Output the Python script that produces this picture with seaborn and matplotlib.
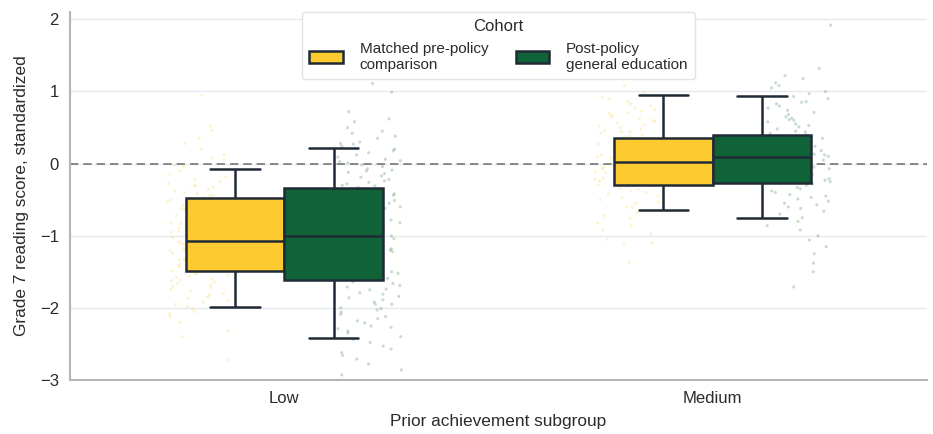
import numpy as np
import pandas as pd
import matplotlib
matplotlib.use("Agg")
import matplotlib.pyplot as plt
import seaborn as sns

# ---- data ----
groups = ["Low", "Medium"]
cohorts = ["Matched pre-policy\ncomparison", "Post-policy\ngeneral education"]
palette = ["#FDCB30", "#0F6336"]

# five-number summaries: whisker low, Q1, median, Q3, whisker high
low_pre_box = [-1.99, -1.49, -1.07, -0.48, -0.07]
low_post_box = [-2.42, -1.62, -1.00, -0.34, 0.21]
med_pre_box = [-0.64, -0.30, 0.02, 0.36, 0.95]
med_post_box = [-0.75, -0.27, 0.09, 0.39, 0.94]

# individual student points (estimated from the faint strip cloud)
low_pre_pts = [0.95, 0.46, 0.28, 0.35, 0.12, 0.05, -0.02, -0.10, -0.15, -0.22, -0.28, -0.31,
               -0.36, -0.40, -0.44, -0.47, -0.52, -0.55, -0.58, -0.61, -0.64, -0.67, -0.70,
               -0.72, -0.75, -0.78, -0.80, -0.83, -0.86, -0.88, -0.91, -0.93, -0.96, -0.98,
               -1.01, -1.03, -1.05, -1.07, -1.09, -1.11, -1.13, -1.16, -1.18, -1.21, -1.23,
               -1.26, -1.28, -1.31, -1.34, -1.37, -1.40, -1.43, -1.46, -1.49, -1.52, -1.56,
               -1.60, -1.64, -1.68, -1.72, -1.77, -1.82, -1.87, -1.92, -1.98, -2.05, -2.12,
               -2.40, -2.72, -0.62, -0.85, -1.02, -1.15, -1.25, -1.45, -0.50, -0.95, -1.33,
               -1.58, -1.70, -0.38, -0.73, -1.08, -1.90,
               0.52, 0.20, 0.08, -0.05, -0.18, -0.25, -0.33, -0.42, -0.49, -0.56, -0.63,
               -0.68, -0.74, -0.79, -0.84, -0.89, -0.94, -0.99, -1.04, -1.10, -1.14, -1.19,
               -1.24, -1.29, -1.35, -1.41, -1.47, -1.53, -1.61, -1.66, -1.74, -1.80, -1.85,
               -1.95, -2.02, -2.08, -2.20, -0.45, -0.66, -0.90, -1.12, -1.38, -1.55, -0.30,
               -0.82, -1.20, -1.62, -2.32]
low_post_pts = [1.11, 0.99, 0.72, 0.58, 0.45, 0.38, 0.30, 0.24, 0.18, 0.12, 0.06, 0.01, -0.04,
                -0.09, -0.14, -0.19, -0.24, -0.28, -0.33, -0.37, -0.42, -0.46, -0.51, -0.55,
                -0.60, -0.64, -0.69, -0.73, -0.78, -0.82, -0.87, -0.91, -0.96, -1.00, -1.04,
                -1.09, -1.13, -1.18, -1.22, -1.27, -1.31, -1.36, -1.40, -1.45, -1.50, -1.54,
                -1.59, -1.64, -1.69, -1.74, -1.79, -1.84, -1.89, -1.95, -2.00, -2.06, -2.12,
                -2.18, -2.25, -2.32, -2.40, -2.48, -2.57, -2.66, -2.78, -2.93, 0.20, -0.10,
                -0.30, -0.50, -0.70, -1.15, -1.35, -1.55, -1.75, -1.95, -2.15, -0.02, 0.35,
                -2.35, -1.02,
                0.62, 0.50, 0.42, 0.27, 0.15, 0.09, 0.03, -0.07, -0.12, -0.17, -0.22, -0.31,
                -0.40, -0.48, -0.57, -0.66, -0.75, -0.85, -0.93, -1.06, -1.20, -1.29, -1.42,
                -1.52, -1.61, -1.71, -1.81, -1.92, -2.03, -2.09, -2.21, -2.29, -2.44, -2.53,
                -2.62, -2.71, -2.86, 0.04, -0.26, -0.62, -0.98, -1.38, -1.66, -1.86, -2.27,
                0.28, -0.44, -1.24, -1.48, -2.01]
med_pre_pts = [1.08, 0.98, 0.92, 0.86, 0.80, 0.75, 0.70, 0.65, 0.60, 0.56, 0.52, 0.48, 0.44,
               0.40, 0.36, 0.32, 0.29, 0.25, 0.22, 0.18, 0.15, 0.11, 0.08, 0.05, 0.02, -0.01,
               -0.04, -0.07, -0.10, -0.13, -0.17, -0.20, -0.24, -0.28, -0.32, -0.36, -0.40,
               -0.45, -0.50, -0.55, -0.61, -0.68, -0.76, -0.86, -0.98, -1.13, -1.37, 0.62,
               0.42, 0.30, 0.12, -0.05, -0.22, -0.42, 0.90, 0.70, 0.20, -0.15, -0.60, -1.10, 0.50,
               0.95, 0.83, 0.77, 0.67, 0.58, 0.54, 0.46, 0.38, 0.34, 0.27, 0.19, 0.14, 0.09,
               0.04, 0.00, -0.03, -0.08, -0.12, -0.18, -0.26, -0.30, -0.38, -0.47, -0.53,
               -0.65, -0.72, -0.82, -0.92, -1.05, 0.73, 0.44, 0.24, 0.06, -0.11, -0.34]
med_post_pts = [1.92, 1.32, 1.18, 1.08, 1.00, 0.93, 0.86, 0.80, 0.74, 0.68, 0.63, 0.58, 0.53,
                0.48, 0.44, 0.40, 0.36, 0.32, 0.28, 0.24, 0.20, 0.16, 0.12, 0.09, 0.05, 0.01,
                -0.03, -0.07, -0.11, -0.15, -0.19, -0.23, -0.28, -0.33, -0.38, -0.43, -0.49,
                -0.55, -0.62, -0.70, -0.80, -0.92, -1.06, -1.25, -1.50, -1.71, 0.55, 0.35, 0.15,
                -0.05, -0.25, -0.45, 0.85, 0.65, 0.25, 0.02, -0.35, -0.60, 0.45, 1.05,
                1.22, 1.12, 0.97, 0.90, 0.83, 0.77, 0.71, 0.61, 0.51, 0.42, 0.38, 0.30, 0.22,
                0.18, 0.10, 0.07, 0.03, -0.01, -0.09, -0.13, -0.21, -0.30, -0.40, -0.47,
                -0.52, -0.66, -0.75, -0.86, -1.00, -1.15, -1.38, 0.60, 0.33, 0.13, -0.17, -0.57]

# ---- tidy tables ----
def tidy(pairs):
    rows = []
    for g, c, vals in pairs:
        for v in vals:
            rows.append({"group": g, "cohort": c, "score": v})
    return pd.DataFrame(rows)

box_df = tidy([(groups[0], cohorts[0], low_pre_box), (groups[0], cohorts[1], low_post_box),
               (groups[1], cohorts[0], med_pre_box), (groups[1], cohorts[1], med_post_box)])
pts_df = tidy([(groups[0], cohorts[0], low_pre_pts), (groups[0], cohorts[1], low_post_pts),
               (groups[1], cohorts[0], med_pre_pts), (groups[1], cohorts[1], med_post_pts)])

# ---- style ----
sns.set_theme(style="whitegrid")
plt.rcParams["font.family"] = ["Liberation Sans", "DejaVu Sans"]
plt.rcParams["text.color"] = "#2b2b2b"
plt.rcParams["axes.labelcolor"] = "#2b2b2b"
plt.rcParams["xtick.color"] = "#2b2b2b"
plt.rcParams["ytick.color"] = "#2b2b2b"

np.random.seed(3)
fig, ax = plt.subplots(figsize=(9.33, 4.34), dpi=100)
fig.subplots_adjust(left=0.075, right=0.9936, top=0.972, bottom=0.1244)

sns.stripplot(data=pts_df, x="group", y="score", hue="cohort", order=groups,
              hue_order=cohorts, palette=palette, dodge=True, jitter=0.15,
              size=2.3, alpha=0.22, linewidth=0, legend=False, ax=ax, zorder=1)

sns.boxplot(data=box_df, x="group", y="score", hue="cohort", order=groups,
            hue_order=cohorts, palette=palette, width=0.46, whis=(0, 100),
            showfliers=False, linecolor="#1f2a36", linewidth=1.8, saturation=1,
            ax=ax, zorder=3)

ax.axhline(0, color="#777777", linestyle=(0, (5, 3)), linewidth=1.2, zorder=2)

ax.set_xlim(-0.5, 1.5)
ax.set_ylim(-3, 2.1)
ax.set_yticks([-3, -2, -1, 0, 1, 2])
ax.set_yticklabels(["\u22123", "\u22122", "\u22121", "0", "1", "2"])
ax.tick_params(axis="both", labelsize=12, length=0, pad=8)
ax.set_xlabel("Prior achievement subgroup", fontsize=12.4, labelpad=6)
ax.set_ylabel("Grade 7 reading score, standardized", fontsize=12.4, labelpad=8)
ax.grid(axis="y", color="#e6e9ee", linewidth=1.0)
ax.grid(axis="x", visible=False)

for s in ["top", "right"]:
    ax.spines[s].set_visible(False)
for s in ["left", "bottom"]:
    ax.spines[s].set_color("#b5b5b5")
    ax.spines[s].set_linewidth(1.5)

sns.move_legend(ax, "upper center", bbox_to_anchor=(0.5, 1.0), ncol=2,
                title="Cohort", fontsize=11, title_fontsize=12, frameon=True,
                borderaxespad=0.0, handlelength=2.2, handleheight=0.9,
                columnspacing=1.8, handletextpad=1.1, borderpad=0.45)
leg = ax.get_legend()
leg.get_frame().set_edgecolor("#e3e3e3")
leg.get_frame().set_facecolor("white")
leg.get_frame().set_alpha(1)

fig.savefig("out.png", dpi=100)
